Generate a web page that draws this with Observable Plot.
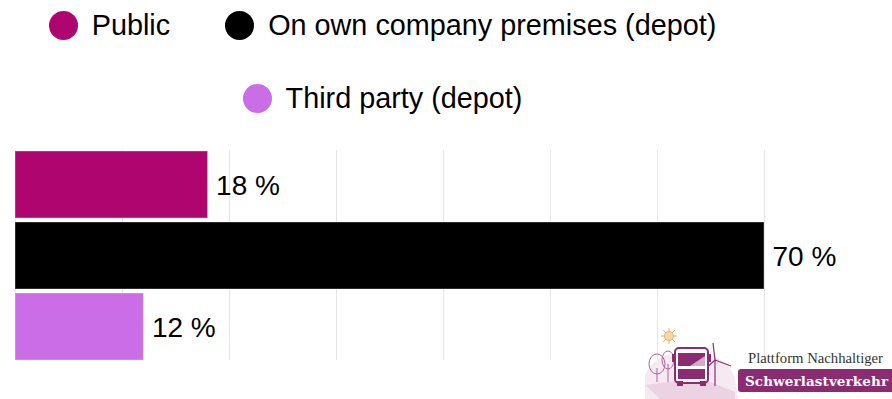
<!DOCTYPE html>
<html>
<head>
<meta charset="utf-8">
<script src="https://cdn.jsdelivr.net/npm/d3@7"></script>
<script src="https://cdn.jsdelivr.net/npm/@observablehq/plot@0.6"></script>
<style>
  html, body { margin: 0; padding: 0; background: #fff; }
  body { width: 892px; height: 399px; position: relative; overflow: hidden; font-family: "Liberation Sans", Arial, sans-serif; }
  #legend { position: absolute; left: 0; top: 10px; width: 765px; display: flex; flex-wrap: wrap; justify-content: center; column-gap: 55px; row-gap: 43px; }
  .item { display: flex; align-items: center; height: 30px; }
  .dot { width: 29px; height: 29px; border-radius: 50%; margin-right: 14px; flex: none; }
  .lab { font-size: 28.8px; color: #000; white-space: nowrap; line-height: 30px; }
  #chart { position: absolute; left: 0; top: 140px; }
  #logo { position: absolute; left: 640px; top: 320px; }
</style>
</head>
<body>
<div id="legend"></div>
<div id="chart"></div>
<svg id="logo" width="252" height="79" viewBox="640 320 252 79">
  <path d="M645,375 Q655,352 690,352 Q725,352 735,378 L738,399 L645,399 Z" fill="#f6eaf2"/>
  <path d="M645,385 L700,378 L735,392 L735,399 L660,399 Z" fill="#ecd3e3"/>
  <g stroke="#e8b070" stroke-width="1">
    <line x1="669" y1="328" x2="669" y2="344"/>
    <line x1="661" y1="336" x2="677" y2="336"/>
    <line x1="663" y1="330" x2="675" y2="342"/>
    <line x1="675" y1="330" x2="663" y2="342"/>
  </g>
  <circle cx="669" cy="336" r="4.5" fill="#f9d7a6" stroke="#e8b070"/>
  <g fill="none" stroke="#b5609a" stroke-width="1">
    <ellipse cx="657" cy="364" rx="8" ry="10"/>
    <line x1="657" y1="368" x2="657" y2="382"/>
    <ellipse cx="668" cy="360" rx="6" ry="9"/>
    <line x1="668" y1="364" x2="668" y2="382"/>
  </g>
  <g stroke="#8b2c73" stroke-width="1.2" fill="none">
    <line x1="715" y1="360" x2="715" y2="386"/>
    <line x1="715" y1="360" x2="713" y2="343"/>
    <line x1="715" y1="360" x2="731" y2="366"/>
    <line x1="715" y1="360" x2="704" y2="370"/>
  </g>
  <rect x="675" y="348" width="33" height="35" rx="4" fill="#fff" stroke="#8b2c73" stroke-width="2"/>
  <path d="M678,353 L705,353 L705,366 L678,366 Z" fill="#8b2c73"/>
  <path d="M690,366 L705,356 L705,366 Z" fill="#d9a9c9"/>
  <rect x="678" y="369" width="27" height="10" fill="#8b2c73"/>
  <rect x="672" y="354" width="3" height="8" fill="#8b2c73"/>
  <rect x="708" y="354" width="3" height="8" fill="#8b2c73"/>
  <rect x="677" y="381" width="6" height="5" fill="#8b2c73"/>
  <rect x="700" y="381" width="6" height="5" fill="#8b2c73"/>
  <text x="748" y="363" font-family="'Liberation Serif','DejaVu Serif',serif" font-size="14.5" fill="#333" textLength="135" lengthAdjust="spacingAndGlyphs">Plattform Nachhaltiger</text>
  <rect x="738" y="369" width="160" height="23" rx="3" fill="#8b2c73"/>
  <text x="745" y="386" font-family="'DejaVu Serif','Liberation Serif',serif" font-weight="bold" font-size="13.5" fill="#fff" textLength="143" lengthAdjust="spacing">Schwerlastverkehr</text>
</svg>
<script>
const categories = ["Public", "On own company premises (depot)", "Third party (depot)"];
const values = [18, 70, 12];
const colors = ["#ae056f", "#000000", "#ca6de6"];
const gridTicks = [0, 10, 20, 30, 40, 50, 60, 70];

const data = categories.map((c, i) => ({category: c, value: values[i]}));

// Legend
const legend = d3.select("#legend");
categories.forEach((c, i) => {
  const it = legend.append("div").attr("class", "item");
  it.append("div").attr("class", "dot").style("background", colors[i]);
  it.append("div").attr("class", "lab").text(c);
});

const chart = Plot.plot({
  width: 892,
  height: 230,
  marginTop: 10,
  marginBottom: 10,
  marginLeft: 15,
  marginRight: 128,
  style: {fontFamily: "'Liberation Sans', Arial, sans-serif", background: "transparent"},
  x: {domain: [0, 70], axis: null},
  y: {domain: categories, axis: null, paddingInner: 0.06, paddingOuter: 0},
  color: {domain: categories, range: colors},
  marks: [
    Plot.ruleX(gridTicks, {stroke: "#e6e6e6", strokeWidth: 1}),
    Plot.barX(data, {x: "value", y: "category", fill: "category", stroke: "#ffffff", strokeOpacity: 0.35, strokeWidth: 1}),
    Plot.text(data, {x: "value", y: "category", text: d => `${d.value} %`, textAnchor: "start", dx: 8, dy: 1, fontSize: 28, fill: "#000"})
  ]
});
document.getElementById("chart").appendChild(chart);
</script>
</body>
</html>
